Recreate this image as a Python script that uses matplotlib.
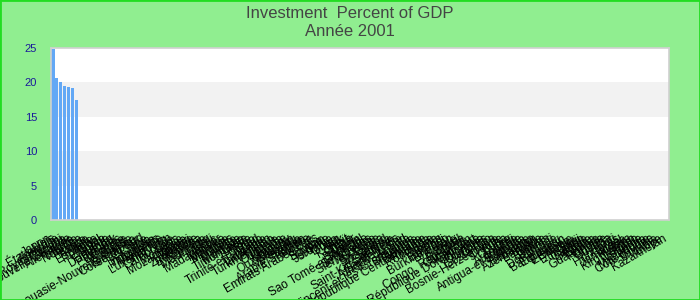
import numpy as np
import matplotlib
matplotlib.use("Agg")
import matplotlib.pyplot as plt
from matplotlib.patches import Rectangle
from matplotlib.transforms import ScaledTranslation

plt.rcParams['font.family'] = ['Liberation Sans', 'DejaVu Sans']

TITLE = "Investment  Percent of GDP"
SUBTITLE = "Année 2001"

countries = [
    "Japon", "États-Unis", "Australie", "Royaume-Uni", "Canada", "Nouvelle-Zélande",
    "Allemagne", "Islande", "Norvège", "France", "Irlande", "Italie", "Espagne",
    "Portugal", "Grèce", "Suède", "Finlande", "Danemark", "Pays-Bas", "Belgique",
    "Autriche", "Suisse", "Papouasie-Nouvelle-Guinée", "Singapour", "Corée du Sud",
    "Chine", "Inde", "Indonésie", "Philippines", "Thaïlande", "Luxembourg", "Viêt Nam",
    "Cambodge", "Laos", "Mongolie", "Mozambique", "Malawi", "Zambie", "Zimbabwe",
    "Botswana", "Namibie", "Mauritanie", "Mali", "Maroc", "Madagascar", "Maurice",
    "Malaisie", "Maldives", "Malte", "Mexique", "Moldavie", "Timor-Leste", "Tunisie",
    "Togo", "Tchad", "Trinité-et-Tobago", "Tanzanie", "Tadjikistan", "Turkménistan",
    "Turquie", "Ouganda", "Ukraine", "Uruguay", "Ouzbékistan", "Vanuatu", "Venezuela",
    "Yémen", "Arabie Saoudite", "Algérie", "Emirats Arabes Unis", "Égypte", "Soudan",
    "Syrie", "Jordanie", "Liban", "Iran", "Irak", "Koweït", "Oman", "Qatar", "Bahreïn",
    "Sénégal", "Sao Tomé-et-Principe", "Seychelles", "Sierra Leone", "Somalie",
    "Sri Lanka", "Swaziland", "Samoa", "Salomon", "Saint-Kitts-et-Nevis",
    "Sainte-Lucie", "Afrique du Sud", "Angola", "Saint-Vincent-et-les-Grenadines",
    "Slovaquie", "Slovénie", "République Centrafricaine", "Rwanda", "Roumanie",
    "Russie", "Bénin", "Burundi", "Burkina Faso", "Bhoutan", "Bolivie", "Brésil",
    "Bulgarie", "Congo, Rép. Dém.", "Cameroun", "Cap-Vert", "République Dominicaine",
    "Colombie", "Comores", "Congo", "Costa Rica", "Bosnie-Herzégovine", "Croatie",
    "Cuba", "Chypre", "Chili", "Argentine", "Arménie", "Antigua-et-Barbuda", "Albanie",
    "Bahamas", "Azerbaïdjan", "Barbade", "Belize", "Bélarus", "Djibouti", "Dominique",
    "Équateur", "Bangladesh", "Érythrée", "Estonie", "Éthiopie", "Fidji", "Gabon",
    "Gambie", "Géorgie", "Ghana", "Guatemala", "Hongrie", "Guinée", "Guyana", "Haïti",
    "Honduras", "Israël", "Jamaïque", "Kenya", "Kirghizistan", "Lesotho", "Lettonie",
    "Liberia", "Macédoine", "Côte d'Ivoire", "Lituanie", "Libye", "Kazakhstan",
]

# only the first countries have a value for 2001
known_values = [24.8, 20.6, 20.1, 19.5, 19.3, 19.2, 17.5]
values = known_values + [np.nan] * (len(countries) - len(known_values))

yticks = [0, 5, 10, 15, 20, 25]

bg = "#90ee90"
fig = plt.figure(figsize=(7, 3), dpi=100, facecolor=bg)
ax = fig.add_axes([0.073, 0.267, 0.883, 0.573])
ax.set_facecolor("white")

for lo in (5, 15):
    ax.axhspan(lo, lo + 5, color="#f2f2f2", zorder=0, lw=0)

x = np.arange(len(countries))
ax.bar(x, values, width=0.8, color="#63a8f5", zorder=2)

ax.set_xlim(-0.5, len(countries) - 0.5)
ax.set_ylim(0, 25)
ax.set_yticks(yticks)
ax.set_yticklabels([str(v) for v in yticks], color="#1a1a9a", fontsize=8)
ax.set_xticks(x)
ax.set_xticklabels(countries, rotation=30, ha="right", rotation_mode="anchor",
                   fontsize=8.5, color="black")
ax.tick_params(axis="both", length=0)
ax.tick_params(axis="y", pad=10)
ax.tick_params(axis="x", pad=9)
shift = ScaledTranslation(-5 / 100, 0, fig.dpi_scale_trans)
for lab in ax.get_xticklabels():
    lab.set_transform(lab.get_transform() + shift)
for s in ax.spines.values():
    s.set_color("#d0d0d0")
    s.set_linewidth(1.2)

fig.text(0.5, 1 - 13 / 300, TITLE, ha="center", va="center", fontsize=12, color="#444444")
fig.text(0.5, 1 - 32 / 300, SUBTITLE, ha="center", va="center", fontsize=12, color="#444444")

fig.patches.append(Rectangle((0, 0), 1, 1, transform=fig.transFigure, fill=False,
                             edgecolor="#22dd22", linewidth=2))

fig.savefig("out.png", dpi=100, facecolor=bg)
